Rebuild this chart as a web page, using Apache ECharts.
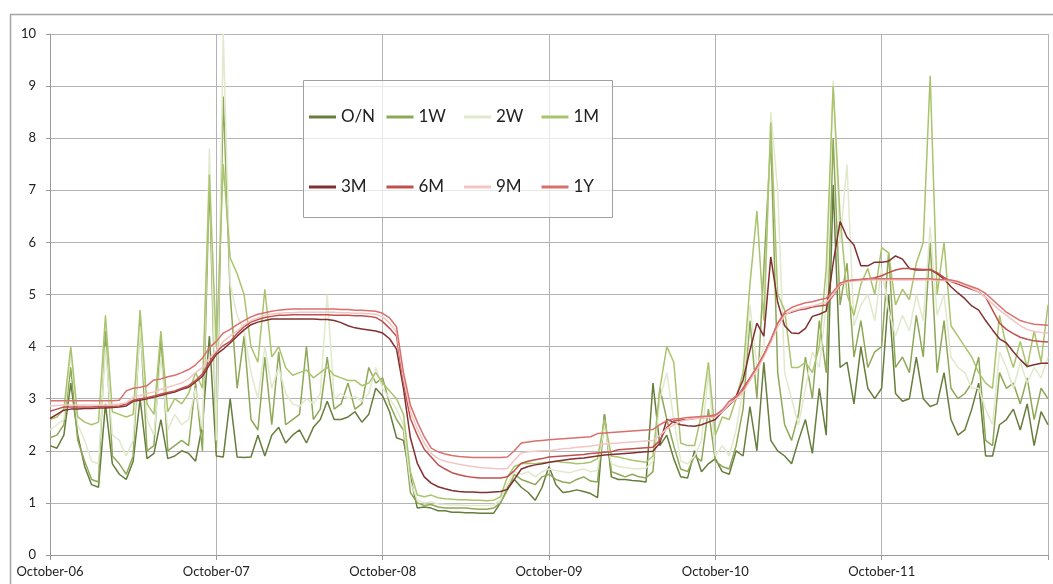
<!DOCTYPE html>
<html>
<head>
<meta charset="utf-8">
<script src="https://cdn.jsdelivr.net/npm/echarts/dist/echarts.min.js"></script>
<style>
html,body{margin:0;padding:0;background:#fff;}
#chart{width:1053px;height:584px;}
</style>
</head>
<body>
<div id="chart"></div>
<script>
// Half-monthly samples starting October 2006 (index i = i/2 months after Oct-06)
const tickLabels = ['October-06','October-07','October-08','October-09','October-10','October-11'];
const seriesNames = ['O/N','1W','2W','1M','3M','6M','9M','1Y'];

const ON = [
  2.1, 2.05, 2.3, 3.3, 2.3, 1.7, 1.35, 1.3, 2.9, 1.75, 1.55, 1.45,
  1.8, 3.0, 1.85, 1.95, 2.6, 1.85, 1.9, 2.0, 1.95, 1.8, 2.5, 4.2,
  1.9, 1.88, 3.0, 1.88, 1.87, 1.88, 2.3, 1.9, 2.3, 2.45, 2.15, 2.3,
  2.4, 2.15, 2.45, 2.6, 2.95, 2.6, 2.6, 2.65, 2.75, 2.55, 2.7, 3.2,
  3.05, 2.75, 2.25, 2.2, 1.5, 0.9, 0.92, 0.9, 0.85, 0.85, 0.82, 0.82,
  0.81, 0.81, 0.8, 0.8, 0.8, 1.0, 1.3, 1.45, 1.3, 1.2, 1.05, 1.3,
  1.7, 1.35, 1.2, 1.22, 1.25, 1.22, 1.18, 1.1, 2.7, 1.5, 1.45, 1.45,
  1.43, 1.42, 1.4, 3.3, 2.1, 2.3, 1.85, 1.5, 1.48, 2.0, 1.6, 1.75,
  1.85, 1.6, 1.55, 2.0, 1.9, 2.85, 2.0, 3.7, 2.2, 2.0, 1.9, 1.75,
  2.2, 2.6, 1.95, 3.2, 2.3, 7.1, 3.6, 3.7, 2.9, 4.0, 3.2, 3.0,
  3.2, 5.0, 3.1, 2.95, 3.0, 3.8, 3.0, 2.85, 2.9, 3.5, 2.6, 2.3,
  2.4, 2.8, 3.3, 1.9, 1.9, 2.5, 2.6, 2.8, 2.4, 2.9, 2.1, 2.75,
  2.5
];
const W1 = [
  2.25, 2.3, 2.5, 3.6, 2.2, 1.8, 1.45, 1.4, 4.3, 1.9, 1.75, 1.55,
  1.9, 4.5, 2.0, 2.1, 4.2, 2.0, 2.1, 2.2, 2.1, 3.3, 2.0, 7.2,
  2.0, 8.8, 5.0, 3.2, 4.2, 2.6, 2.4, 3.8, 2.5, 3.9, 2.5, 2.6,
  2.7, 4.0, 2.6, 2.8, 3.8, 2.8, 2.9, 3.3, 2.8, 2.9, 3.6, 3.3,
  3.4, 2.9, 2.6, 2.4, 1.2, 1.0, 0.95, 0.97, 0.92, 0.9, 0.9, 0.9,
  0.9, 0.89, 0.88, 0.88, 0.9, 1.0, 1.25, 1.55, 1.45, 1.4, 1.35, 1.5,
  1.55, 1.45, 1.4, 1.38, 1.45, 1.5, 1.42, 1.4, 2.7, 1.6, 1.55, 1.5,
  1.55, 1.5, 1.48, 1.6, 3.2, 2.6, 2.1, 1.65, 1.6, 1.9, 1.8, 2.8,
  1.8, 1.7, 1.65, 2.1, 2.8, 4.5, 3.0, 5.5, 8.0, 3.5, 2.5, 2.2,
  2.7, 3.8, 3.0, 4.5, 3.5, 8.0, 4.8, 5.6, 3.8, 4.5, 3.6, 3.9,
  4.0, 5.8, 3.6, 3.8, 3.5, 4.6, 3.8, 6.0, 3.5, 4.5, 3.2, 3.0,
  3.1, 3.3, 3.8, 2.2, 2.1, 3.5, 3.2, 3.3, 2.9, 3.4, 2.6, 3.2,
  3.0
];
const W2 = [
  2.4, 2.5, 2.6, 3.9, 2.5, 2.2, 1.8, 1.75, 4.0, 2.3, 2.2, 1.9,
  2.2, 4.4, 2.6, 2.3, 3.8, 2.4, 2.7, 2.5, 2.6, 3.2, 2.4, 7.8,
  2.2, 10.0, 5.2, 4.6, 4.3, 3.5, 3.0, 4.0, 3.2, 3.6, 3.1, 2.9,
  2.85, 3.0, 2.9, 3.1, 5.0, 3.0, 3.1, 3.0, 3.05, 2.95, 3.1, 3.6,
  3.2, 3.0, 2.8, 2.5, 1.4, 1.05, 1.0, 1.02, 0.98, 0.97, 0.96, 0.96,
  0.95, 0.95, 0.95, 0.95, 0.96, 1.05, 1.35, 1.6, 1.55, 1.6, 1.5, 1.6,
  1.65, 1.62, 1.6, 1.58, 1.62, 1.65, 1.6, 1.62, 2.5, 1.75, 1.7, 1.68,
  1.66, 1.65, 1.67, 1.8, 3.0, 3.5, 2.6, 1.8, 1.75, 1.9, 2.2, 3.5,
  1.9, 2.1, 1.9, 2.4, 3.2, 4.8, 3.6, 4.0, 8.5, 7.0, 3.5, 3.0,
  2.5, 3.2, 3.9, 3.6, 4.8, 9.1, 6.0, 7.5, 4.4, 4.8, 5.0, 4.5,
  5.5, 4.7, 4.2, 4.6, 4.3, 5.0, 4.5, 6.3, 4.6, 5.0, 3.8, 3.6,
  3.5, 3.2, 3.2, 2.8, 2.5, 3.9, 3.6, 3.2, 3.7, 3.3, 3.6, 3.4,
  3.8
];
const M1 = [
  2.6, 2.65, 2.8, 4.0, 2.65, 2.55, 2.5, 2.55, 4.6, 2.75, 2.7, 2.65,
  2.7, 4.7, 2.9, 2.7, 4.3, 2.75, 3.0, 2.9, 3.1, 3.5, 3.2, 7.3,
  4.0, 7.5, 5.7, 5.4, 5.0, 4.0, 3.7, 5.1, 3.8, 4.0, 3.6, 3.45,
  3.5, 3.55, 3.4, 3.5, 3.6, 3.45, 3.4, 3.35, 3.35, 3.25, 3.3, 3.5,
  3.3, 3.15, 3.0, 2.7, 1.6, 1.15, 1.12, 1.15, 1.1, 1.08, 1.07, 1.06,
  1.06, 1.05, 1.05, 1.04, 1.05, 1.12, 1.5, 1.7, 1.75, 1.76, 1.75, 1.77,
  1.78, 1.8, 1.78, 1.77, 1.75, 1.76, 1.78, 1.85, 2.6, 1.9, 1.88, 1.85,
  1.82, 1.8, 1.78, 1.9, 3.2, 4.0, 3.7, 2.15, 2.1, 2.1, 2.7, 3.7,
  2.3, 2.65, 2.6, 3.0, 3.5, 5.2, 6.6, 4.5, 8.3, 5.0, 4.7, 3.6,
  3.6, 3.7, 3.5, 4.0, 5.5, 9.0, 6.5, 5.0, 4.6, 5.2, 5.5, 5.0,
  5.9, 5.8, 4.8, 5.1, 4.9, 5.6, 6.0, 9.2, 5.0, 6.0, 4.4, 4.2,
  4.0, 3.8, 3.5, 3.3, 3.2, 4.6, 4.0, 3.6, 4.1, 3.6, 4.3, 3.7,
  4.8
];
const M3 = [
  2.62, 2.7, 2.78, 2.8, 2.8, 2.81, 2.81, 2.82, 2.82, 2.83, 2.84, 2.86,
  2.95, 2.97, 3.0, 3.03, 3.06, 3.1, 3.13, 3.18, 3.22, 3.32, 3.43, 3.65,
  3.85, 3.95, 4.07, 4.2, 4.32, 4.42, 4.47, 4.5, 4.53, 4.53, 4.53, 4.53,
  4.53, 4.53, 4.53, 4.52, 4.52, 4.5, 4.46, 4.4, 4.36, 4.34, 4.32, 4.3,
  4.26, 4.15, 3.95, 3.2, 2.25, 1.76, 1.5, 1.38, 1.31, 1.27, 1.24, 1.22,
  1.21, 1.21, 1.2, 1.2, 1.21, 1.22, 1.26, 1.45, 1.65, 1.7, 1.73, 1.75,
  1.78, 1.8, 1.82, 1.84, 1.85, 1.86, 1.88, 1.9, 1.92, 1.93, 1.94, 1.95,
  1.96, 1.97, 1.98, 1.99, 2.15, 2.6, 2.55, 2.5, 2.48, 2.47, 2.5, 2.55,
  2.6, 2.75, 2.88, 3.05, 3.36, 3.93, 4.45, 4.2, 5.72, 4.85, 4.4, 4.26,
  4.25, 4.35, 4.58, 4.62, 4.68, 5.6, 6.4, 6.1, 5.95, 5.55, 5.55, 5.62,
  5.62, 5.64, 5.74, 5.68, 5.5, 5.47, 5.47, 5.48, 5.4, 5.3, 5.15, 5.03,
  4.92, 4.78, 4.7, 4.5, 4.32, 4.15, 4.07, 3.9, 3.75, 3.62, 3.65, 3.68,
  3.68
];
const M6 = [
  2.76, 2.8, 2.84, 2.84, 2.84, 2.84, 2.84, 2.85, 2.85, 2.85, 2.86, 2.9,
  2.97, 3.0, 3.02, 3.05, 3.09, 3.12, 3.15, 3.2, 3.25, 3.35, 3.48, 3.7,
  3.9, 4.02, 4.1, 4.25, 4.38, 4.47, 4.52, 4.56, 4.58, 4.6, 4.6, 4.61,
  4.61, 4.61, 4.61, 4.61, 4.61, 4.6, 4.6, 4.6, 4.59, 4.59, 4.58, 4.56,
  4.48, 4.35, 4.2, 3.3, 2.62, 2.3, 2.03, 1.88, 1.73, 1.65, 1.58, 1.54,
  1.51, 1.49, 1.48, 1.48, 1.48, 1.48, 1.5, 1.62, 1.76, 1.8, 1.83, 1.85,
  1.88, 1.89, 1.9, 1.91, 1.92, 1.93, 1.95, 1.96, 1.97, 1.98, 2.02, 2.03,
  2.04, 2.05, 2.06, 2.07, 2.2, 2.45, 2.57, 2.59, 2.6, 2.62, 2.63, 2.65,
  2.67, 2.78, 2.88, 3.0, 3.2, 3.4, 3.6, 3.85, 4.12, 4.45, 4.62, 4.66,
  4.7, 4.72, 4.76, 4.78, 4.8, 4.98, 5.18, 5.26, 5.28, 5.29, 5.3, 5.32,
  5.36, 5.42, 5.47, 5.5, 5.5, 5.49, 5.48, 5.48, 5.42, 5.33, 5.25, 5.2,
  5.15, 5.1, 5.05, 4.95, 4.7, 4.45, 4.33, 4.25, 4.18, 4.14, 4.11, 4.1,
  4.09
];
const M9 = [
  2.86, 2.87, 2.88, 2.88, 2.88, 2.88, 2.88, 2.88, 2.88, 2.89, 2.9, 2.92,
  3.03, 3.06, 3.1, 3.13, 3.18, 3.22, 3.26, 3.3, 3.38, 3.5, 3.6, 3.78,
  3.92, 4.1, 4.2, 4.3, 4.42, 4.5, 4.55, 4.6, 4.62, 4.64, 4.65, 4.65,
  4.66, 4.66, 4.66, 4.66, 4.66, 4.66, 4.65, 4.65, 4.64, 4.64, 4.63, 4.62,
  4.57, 4.45, 4.28, 3.4, 2.76, 2.42, 2.15, 1.95, 1.85, 1.8, 1.77, 1.74,
  1.72, 1.7, 1.68, 1.67, 1.66, 1.65, 1.66, 1.82, 1.96, 1.98, 1.99, 2.0,
  2.0, 2.02, 2.04, 2.05, 2.07, 2.08, 2.09, 2.11, 2.13, 2.14, 2.15, 2.16,
  2.17, 2.18, 2.19, 2.2, 2.3, 2.42, 2.5, 2.56, 2.6, 2.62, 2.63, 2.64,
  2.65, 2.75, 2.9, 3.0, 3.12, 3.35, 3.55, 3.8, 4.08, 4.38, 4.6, 4.68,
  4.72, 4.76, 4.78, 4.82, 4.85, 5.0, 5.2, 5.24, 5.26, 5.27, 5.28, 5.28,
  5.28, 5.28, 5.28, 5.28, 5.28, 5.28, 5.28, 5.28, 5.27, 5.27, 5.26, 5.23,
  5.18, 5.12, 5.05, 4.95, 4.82, 4.7, 4.6, 4.5, 4.4, 4.33, 4.29, 4.27,
  4.26
];
const Y1 = [
  2.96, 2.96, 2.96, 2.96, 2.96, 2.96, 2.96, 2.96, 2.96, 2.96, 2.97, 3.15,
  3.2, 3.22, 3.25, 3.36, 3.38, 3.42, 3.45, 3.5, 3.56, 3.65, 3.78, 3.98,
  4.1, 4.26, 4.33, 4.42, 4.5, 4.57, 4.62, 4.65, 4.68, 4.7, 4.71, 4.72,
  4.72, 4.72, 4.72, 4.72, 4.72, 4.72, 4.71, 4.71, 4.7, 4.7, 4.69, 4.68,
  4.64, 4.55, 4.38, 3.5, 2.88, 2.55, 2.27, 2.05, 1.98, 1.94, 1.91, 1.89,
  1.88, 1.87, 1.87, 1.87, 1.87, 1.87, 1.88, 2.0, 2.15, 2.17, 2.19, 2.2,
  2.21, 2.22, 2.23, 2.24, 2.25, 2.26, 2.27, 2.33, 2.34, 2.35, 2.36, 2.37,
  2.38, 2.39, 2.4, 2.41, 2.5, 2.58, 2.61, 2.62, 2.64, 2.65, 2.66, 2.67,
  2.69, 2.78, 2.95, 3.05, 3.17, 3.4, 3.61, 3.85, 4.13, 4.45, 4.66, 4.75,
  4.8, 4.84, 4.86, 4.9, 4.93, 5.05, 5.22, 5.26, 5.28, 5.29, 5.3, 5.3,
  5.3, 5.3, 5.3, 5.3, 5.3, 5.3, 5.3, 5.3, 5.29, 5.29, 5.28, 5.25,
  5.2, 5.15, 5.1, 5.02, 4.9, 4.78, 4.66, 4.58, 4.5, 4.46, 4.43, 4.42,
  4.41
];

const valuesList = [ON, W1, W2, M1, M3, M6, M9, Y1];
const colors = ['#667d3c', '#8ea857', '#e1e9cc', '#a9c46c', '#80302e', '#c0504d', '#f2c6c4', '#d9706c'];
const FONT = 'Lato, "Open Sans", sans-serif';

const chart = echarts.init(document.getElementById('chart'), null, {renderer: 'canvas'});

const series = seriesNames.map((name, k) => ({
  name: name,
  type: 'line',
  data: valuesList[k].map((v, i) => [i / 2, v]),
  showSymbol: false,
  symbol: 'none',
  lineStyle: {color: colors[k], width: 1.5},
  itemStyle: {color: colors[k]},
  z: 2 + k * 0.01,
  silent: true
}));

const legendCommon = {
  left: 309,
  itemGap: 0,
  itemWidth: 27,
  itemHeight: 3,
  icon: 'rect',
  padding: 0,
  z: 6,
  textStyle: {fontSize: 17, width: 45.5, color: '#222', fontFamily: FONT, lineHeight: 22},
  selectedMode: false
};

chart.setOption({
  animation: false,
  backgroundColor: '#ffffff',
  grid: {left: 50, right: 5, top: 34, bottom: 29, containLabel: false},
  xAxis: {
    type: 'value',
    min: 0,
    max: 72,
    interval: 12,
    axisLine: {show: true, lineStyle: {color: '#9a9a9a', width: 1}},
    axisTick: {show: true, length: 5, lineStyle: {color: '#9a9a9a'}},
    splitLine: {show: true, lineStyle: {color: '#b3b3b3', width: 1}},
    axisLabel: {
      margin: 10,
      color: '#222',
      fontSize: 13,
      fontFamily: FONT,
      formatter: v => tickLabels[Math.round(v / 12)] || ''
    }
  },
  yAxis: {
    type: 'value',
    min: 0,
    max: 10,
    interval: 1,
    axisLine: {show: true, lineStyle: {color: '#9a9a9a', width: 1}},
    axisTick: {show: true, length: 4, lineStyle: {color: '#9a9a9a'}},
    splitLine: {show: true, lineStyle: {color: '#b3b3b3', width: 1}},
    axisLabel: {margin: 14, color: '#222', fontSize: 13, fontFamily: FONT}
  },
  legend: [
    Object.assign({}, legendCommon, {top: 106, data: seriesNames.slice(0, 4)}),
    Object.assign({}, legendCommon, {top: 176, data: seriesNames.slice(4, 8)})
  ],
  graphic: [
    {type: 'rect', silent: true, z: 0,
     shape: {x: 10.5, y: 14.5, width: 1200, height: 700},
     style: {fill: 'none', stroke: '#a3a3a3', lineWidth: 1.5}},
    {type: 'rect', silent: true, z: 5,
     shape: {x: 303.5, y: 80.5, width: 309, height: 137},
     style: {fill: 'rgba(255,255,255,0.7)', stroke: '#a0a0a0', lineWidth: 1}}
  ],
  series: series
});
</script>
</body>
</html>
